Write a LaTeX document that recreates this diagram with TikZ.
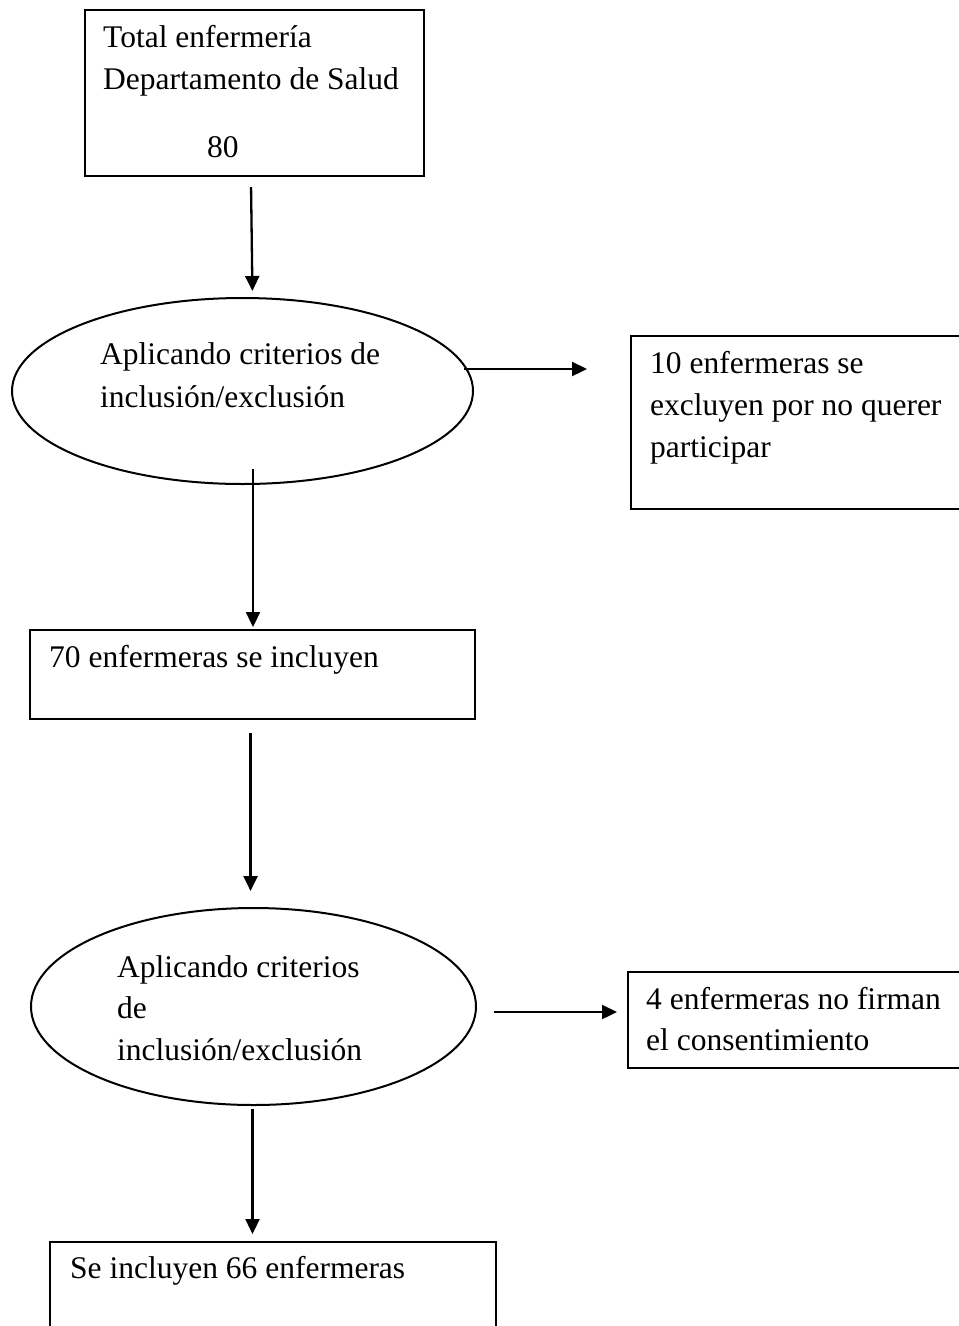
\documentclass[tikz,border=0pt]{standalone}
\usepackage{fontspec}
\setmainfont{Liberation Serif}
\usetikzlibrary{shapes.geometric,arrows.meta}

\begin{document}
\begin{tikzpicture}[x=1pt,y=-1pt,
  every node/.style={font=\fontsize{31.5}{42}\selectfont},
  box/.style={draw,line width=2.1pt,rectangle,anchor=north west,inner sep=0pt},
  oval/.style={draw,line width=2pt,ellipse,inner sep=0pt},
  txt/.style={anchor=base west,align=left,inner sep=0pt},
  flow/.style={-{Triangle[length=15pt,width=14pt]},line width=2.3pt}]
  \useasboundingbox (0,0) rectangle (959,1326);
  \clip (0,0) rectangle (959,1326);
  % boxes and ovals
  \node[box,minimum width=339pt,minimum height=166pt] (total) at (84,9) {};
  \node[oval,minimum width=461pt,minimum height=186pt] (crit1) at (242.5,391) {};
  \node[box,minimum width=400pt,minimum height=173pt] (excl10) at (630,335) {};
  \node[box,minimum width=445pt,minimum height=89pt] (incl70) at (29,629) {};
  \node[oval,minimum width=445pt,minimum height=197pt] (crit2) at (253.5,1006.5) {};
  \node[box,minimum width=400pt,minimum height=96pt] (excl4) at (627,971) {};
  \node[box,minimum width=446pt,minimum height=150pt] (final) at (49,1241) {};
  % texts (anchored at the baseline of their last line)
  \node[txt] (t-total) at (103,89) {Total enfermería\\Departamento de Salud};
  \node[txt] (t-80) at (207,157) {80};
  \node[txt,font=\fontsize{31.5}{43}\selectfont] (t-crit1) at (100,407) {Aplicando criterios de\\inclusión/exclusión};
  \node[txt] (t-excl10) at (650,457) {10 enfermeras se\\excluyen por no querer\\participar};
  \node[txt] (t-incl70) at (49,667) {70 enfermeras se incluyen};
  \node[txt,font=\fontsize{31.5}{41.5}\selectfont] (t-crit2) at (117,1060) {Aplicando criterios\\de\\inclusión/exclusión};
  \node[txt,font=\fontsize{31.5}{41}\selectfont] (t-excl4) at (646,1050) {4 enfermeras no firman\\el consentimiento};
  \node[txt] (t-final) at (70,1278) {Se incluyen 66 enfermeras};
  % connectors
  \draw[flow,shorten >=6pt] ([xshift=-3.5pt,yshift=-10pt]total.south) -- ([xshift=10pt]crit1.north);
  \coordinate (a1) at ([xshift=-10pt,yshift=22pt]crit1.east);
  \draw[flow,shorten >=43pt] (a1) -- (a1 -| excl10.west);
  \coordinate (a2) at ([xshift=10.5pt,yshift=16pt]crit1.south);
  \draw[flow,shorten >=2pt] (a2) -- (a2 |- incl70.north);
  \draw[flow,shorten <=13pt,shorten >=16pt] ([xshift=-2pt]incl70.south) -- ([xshift=-2pt]incl70.south |- crit2.north);
  \coordinate (a3) at ([xshift=17pt,yshift=-5.5pt]crit2.east);
  \draw[flow,shorten >=10pt] (a3) -- (a3 -| excl4.west);
  \draw[flow,shorten <=3pt,shorten >=7pt] ([xshift=-1pt]crit2.south) -- ([xshift=-1pt]crit2.south |- final.north);
\end{tikzpicture}
\end{document}
